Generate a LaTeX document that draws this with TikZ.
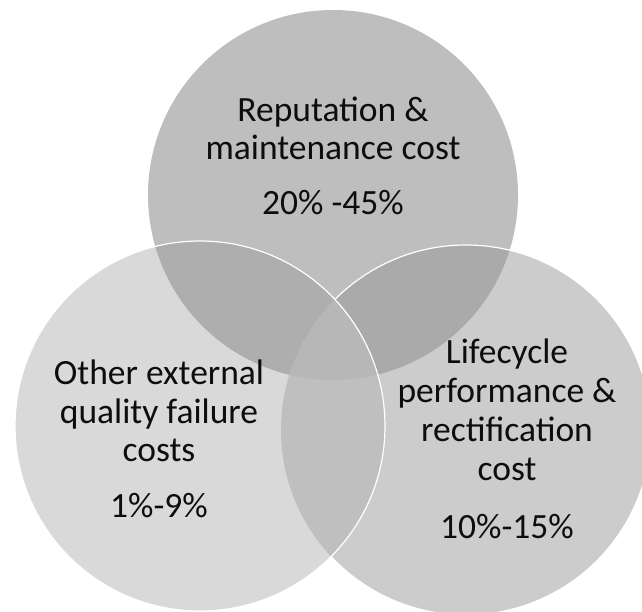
\documentclass[tikz,border=0pt]{standalone}
\usepackage{fontspec}
\setmainfont{Carlito}
\definecolor{cT}{HTML}{BEBEBE}
\definecolor{cL}{HTML}{D9D9D9}
\definecolor{cR}{HTML}{CCCCCC}
\definecolor{cTL}{HTML}{AEAEAE}
\definecolor{cTR}{HTML}{AAAAAA}
\definecolor{cLR}{HTML}{BFBFBF}
\definecolor{cC}{HTML}{B7B7B7}
\definecolor{txt}{HTML}{0D0D0D}
\begin{document}
\begin{tikzpicture}[x=1pt,y=-1pt,
  lbl/.style={anchor=base,inner sep=0pt,text=txt,font=\fontsize{35.5}{38}\selectfont},
  rim/.style={draw=white,line width=1.2pt}]
\useasboundingbox (0,0) rectangle (642,612);
\def\Tc{(333,195) circle[radius=185]}
\def\Lc{(200,426) circle[radius=185]}
\def\Rc{(466,430) circle[radius=185]}
% single regions
\fill[cT] \Tc;
\fill[cR] \Rc;
\fill[cL] \Lc;
% pairwise overlaps
\begin{scope}
  \clip \Tc;
  \fill[cTL] \Lc;
  \fill[cTR] \Rc;
\end{scope}
\begin{scope}
  \clip \Lc;
  \fill[cLR] \Rc;
\end{scope}
\begin{scope}
  \clip \Tc;
  \clip \Lc;
  \fill[cC] \Rc;
\end{scope}
% white rims
\begin{scope}[even odd rule]
  \clip (-10,-10) rectangle (652,622) \Lc;
  \draw[rim] \Rc;
\end{scope}
\draw[rim] \Lc;
% texts
\node[lbl] (t1) at (333,122) {Reputation \&};
\node[lbl] (t2) at (333,160) {maintenance cost};
\node[lbl] (t3) at (333,215) {20\% -45\%};
\node[lbl] (l1) at (159,384) {Other external};
\node[lbl] (l2) at (159,423) {quality failure};
\node[lbl] (l3) at (159,461) {costs};
\node[lbl] (l4) at (159,517) {1\%-9\%};
\node[lbl] (r1) at (507,363) {Lifecycle};
\node[lbl] (r2) at (507,402) {performance \&};
\node[lbl] (r3) at (507,441) {rectification};
\node[lbl] (r4) at (507,480) {cost};
\node[lbl] (r5) at (507,538) {10\%-15\%};
\end{tikzpicture}
\end{document}
